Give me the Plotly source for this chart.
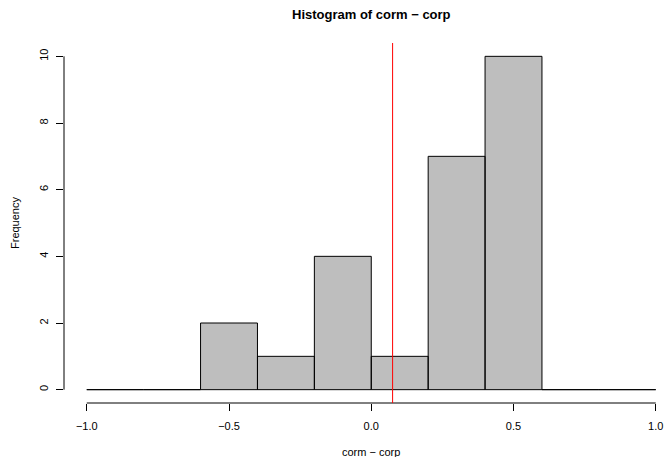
import plotly.graph_objects as go

# Histogram bins (breaks) and counts
breaks = [-1.0, -0.8, -0.6, -0.4, -0.2, 0.0, 0.2, 0.4, 0.6, 0.8, 1.0]
counts = [0, 0, 2, 1, 4, 1, 7, 10, 0, 0]
ref_value = 0.075

x_ticks = [-1.0, -0.5, 0.0, 0.5, 1.0]
x_ticklabels = ["\u22121.0", "\u22120.5", "0.0", "0.5", "1.0"]
y_ticks = [0, 2, 4, 6, 8, 10]
y_ticklabels = ["0", "2", "4", "6", "8", "10"]

W, H = 665, 457
ML, MR, MT, MB = 64, 0, 43, 54
px_per_unit = 284.5
x_lo = breaks[0] - 0.04 * (breaks[-1] - breaks[0])
x_hi = x_lo + (W - ML - MR) / px_per_unit
x_mid = (x_lo + breaks[-1] + 0.04 * (breaks[-1] - breaks[0])) / 2
y_max = max(counts)
y_lo, y_hi = -0.04 * y_max, 1.04 * y_max

# Each bin as a closed rectangle; empty bins collapse to a line at zero
xs, ys = [], []
for i, c in enumerate(counts):
    l, r = breaks[i], breaks[i + 1]
    xs += [l, l, r, r, l, None]
    ys += [0, c, c, 0, 0, None]

fig = go.Figure()
fig.add_trace(go.Scatter(
    x=xs, y=ys, mode="lines", fill="toself",
    fillcolor="#BEBEBE", line=dict(color="black", width=1),
    hoverinfo="skip", showlegend=False,
))

font = "Liberation Sans, Arial, Helvetica, sans-serif"

fig.update_layout(
    width=W, height=H,
    margin=dict(l=ML, r=MR, t=MT, b=MB, pad=0),
    plot_bgcolor="white", paper_bgcolor="white",
    font=dict(family=font, size=11, color="black"),
    showlegend=False,
    xaxis=dict(
        range=[x_lo, x_hi], showgrid=False, zeroline=False, showline=False,
        tickmode="array", tickvals=x_ticks, ticktext=x_ticklabels,
        ticks="outside", ticklen=7, tickwidth=1, tickcolor="black",
        tickfont=dict(size=11, family=font), ticklabelstandoff=6,
    ),
    yaxis=dict(
        range=[y_lo, y_hi], showgrid=False, zeroline=False, showline=False,
        tickmode="array", tickvals=y_ticks, ticktext=y_ticklabels,
        ticks="outside", ticklen=7, tickwidth=1, tickcolor="black",
        tickangle=-90, tickfont=dict(size=11, family=font), ticklabelstandoff=4,
    ),
    shapes=[
        # axis lines spanning the tick range only
        dict(type="line", xref="x", yref="paper", x0=x_ticks[0], x1=x_ticks[-1],
             y0=0, y1=0, line=dict(color="black", width=1)),
        dict(type="line", xref="paper", yref="y", x0=0, x1=0,
             y0=y_ticks[0], y1=y_ticks[-1], line=dict(color="black", width=1)),
        # reference line
        dict(type="line", xref="x", yref="paper", x0=ref_value, x1=ref_value,
             y0=0, y1=1, line=dict(color="red", width=1)),
    ],
    annotations=[
        dict(text="<b>Histogram of corm \u2212 corp</b>", xref="x", yref="paper",
             x=x_mid, y=1, yshift=29, showarrow=False,
             font=dict(size=13, family=font), xanchor="center", yanchor="middle"),
        dict(text="corm \u2212 corp", xref="x", yref="paper",
             x=x_mid, y=0, yshift=-49, showarrow=False,
             font=dict(size=11, family=font), xanchor="center", yanchor="middle"),
        dict(text="Frequency", xref="paper", yref="paper", x=0, xshift=-49,
             y=0.5, showarrow=False, textangle=-90,
             font=dict(size=11, family=font), xanchor="center", yanchor="middle"),
    ],
)

fig.write_html("out.html")
